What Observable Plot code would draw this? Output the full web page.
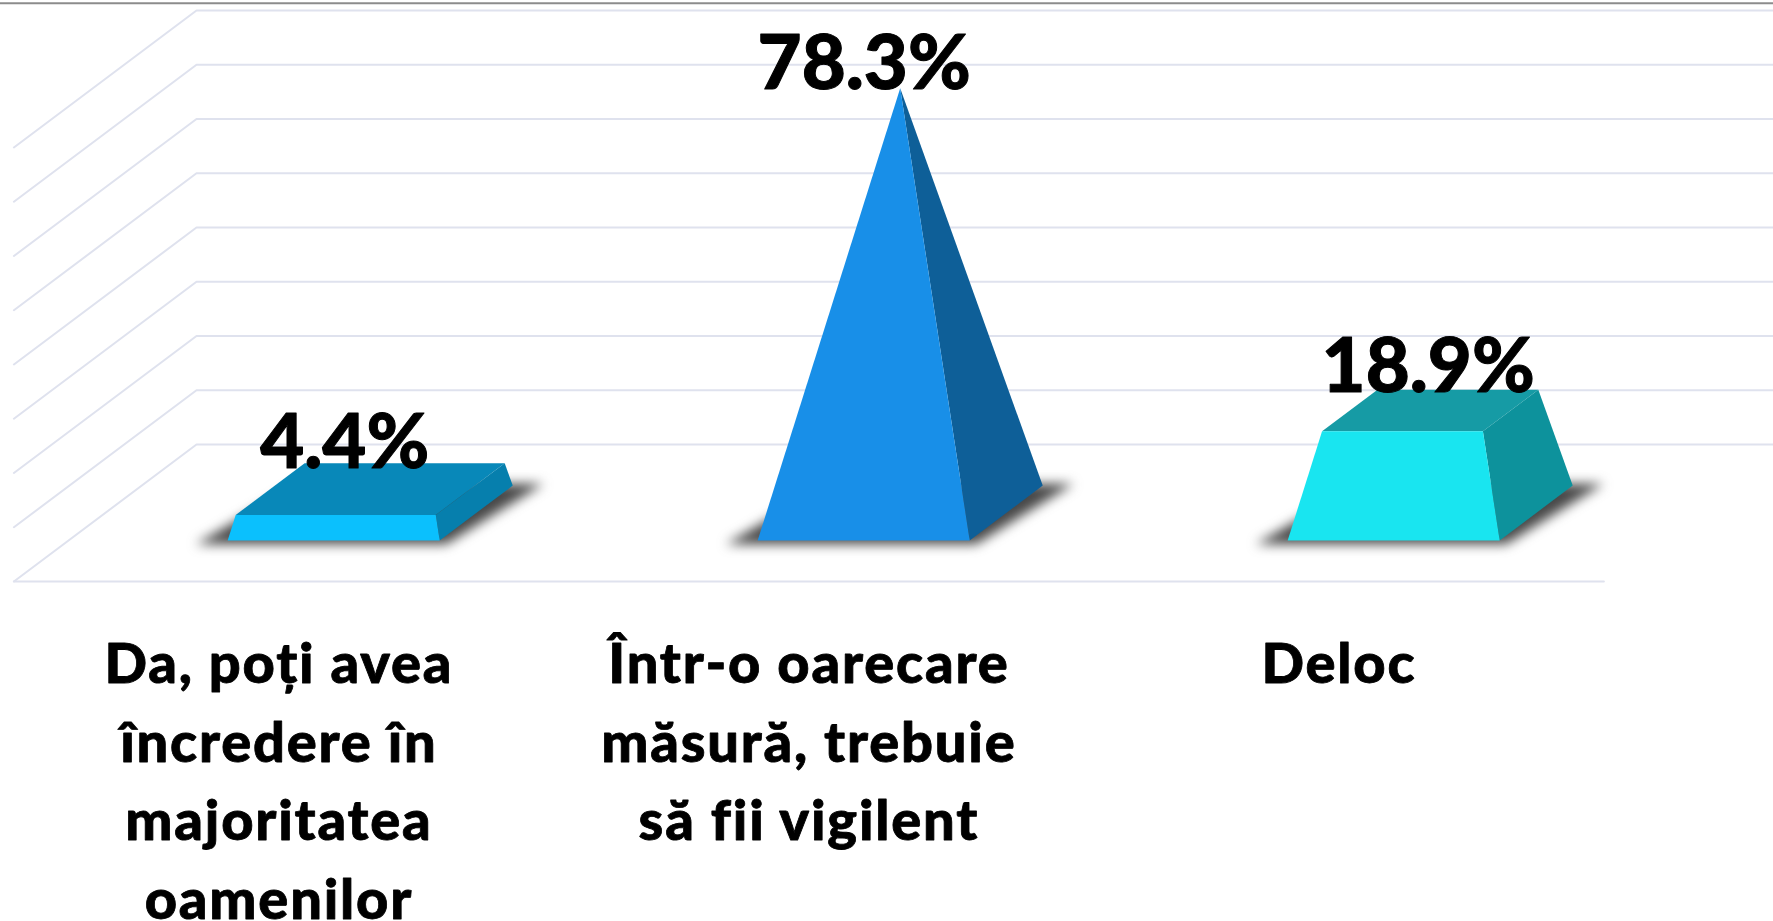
<!DOCTYPE html>
<html>
<head>
<meta charset="utf-8">
<script src="https://cdn.jsdelivr.net/npm/d3@7"></script>
<script src="https://cdn.jsdelivr.net/npm/@observablehq/plot@0.6"></script>
<style>
html,body{margin:0;padding:0;background:#fff;overflow:hidden}
svg{display:block;font-variant-ligatures:none}
svg g[font-size="56"]{letter-spacing:1.8px}
</style>
</head>
<body>
<div id="chart"></div>
<script>
// Data
const categories = ["Da, poți avea\nîncredere în\nmajoritatea\noamenilor", "Într-o oarecare\nmăsură, trebuie\nsă fii vigilent", "Deloc"];
const values = [4.4, 78.3, 18.9];
const valueLabels = ["4.4%", "78.3%", "18.9%"];
const gridTicks = [0, 10, 20, 30, 40, 50, 60, 70, 80];

// Styles
const frontColors = ["#0bc0fd", "#188fe8", "#19e5f0"];
const topColors = ["#0888b9", "#188fe8", "#169ba5"];
const sideColors = ["#067fad", "#0e5f98", "#0d929c"];
const gridColor = "#dfe2ee";

// Layout
const W = 1773, H = 921;
const pxPerCat = 530, pxPerPct = 5.425, x0 = 13.4, y0 = 581;
const depthX = 182.6 / pxPerCat, depthY = 137 / pxPerPct; // oblique projection of the depth axis
const halfBase = 0.2;
const peak = d3.max(values);
const px = (u, d) => u + depthX * d;
const py = (v, d) => v + depthY * d;

// Pyramid corner at a given height
function corner(i, su, sd, v) {
  const k = 1 - v / peak;
  const u = i + 0.5 + su * halfBase * k, d = 0.5 + sd * halfBase * k;
  return {x: px(u, d), y: py(v, d)};
}
const faces = [];
const addFace = (id, fill, pts) => pts.forEach(p => faces.push({...p, id, fill}));
values.forEach((v, i) => {
  addFace(`top${i}`, topColors[i], [corner(i,-1,-1,v), corner(i,1,-1,v), corner(i,1,1,v), corner(i,-1,1,v)]);
  addFace(`side${i}`, sideColors[i], [corner(i,1,-1,0), corner(i,1,1,0), corner(i,1,1,v), corner(i,1,-1,v)]);
  addFace(`front${i}`, frontColors[i], [corner(i,-1,-1,0), corner(i,1,-1,0), corner(i,1,-1,v), corner(i,-1,-1,v)]);
});

// Soft contact shadow on the floor
const shadow = values.flatMap((v, i) => {
  const a = corner(i,-1,-1,0), b = corner(i,1,-1,0), c = corner(i,1,1,0), e = corner(i,-1,1,0);
  return [
    {id:i, x:a.x-0.06, y:a.y-0.7},
    {id:i, x:b.x+0.012, y:b.y-0.7},
    {id:i, x:c.x+0.058, y:c.y+0.35},
    {id:i, x:e.x, y:e.y+0.35}
  ];
});

// Grid: side wall + back wall per tick, plus floor front edge
const grid = gridTicks.flatMap(t => [
  {t, x:px(0,0), y:py(t,0)},
  {t, x:px(0,1), y:py(t,1)},
  {t, x:px(3,1), y:py(t,1)}
]);
const floorFront = [{x:px(0,0), y:0}, {x:px(3,0), y:0}];

const labels = categories.map((c, i) => ({c, x:i+0.5, y:0}));
const vals = valueLabels.map((t, i) => ({t, x:px(i+0.5,0.5), y:py(values[i],0.5)}));
const nudges = [{dx:-25.5, dy:-21}, {dx:-36, dy:1}, {dx:-2, dy:-18}];
const valueFont = {fontFamily:"Lato", fontWeight:900, fontSize:76, fill:"#000", stroke:"#000", strokeWidth:1, lineAnchor:"bottom"};

const plot = Plot.plot({
  width: W, height: H,
  margin: 0,
  style: {background:"#fff"},
  x: {domain:[-x0/pxPerCat, (W-x0)/pxPerCat], range:[0,W], axis:null},
  y: {domain:[(y0-H)/pxPerPct, y0/pxPerPct], range:[H,0], axis:null},
  color: {type:"identity"},
  marks: [
    Plot.ruleY([y0/pxPerPct - 2.7/pxPerPct], {stroke:"#8c8c8c", strokeWidth:2}),
    Plot.line(grid, {x:"x", y:"y", z:"t", stroke:gridColor, strokeWidth:2}),
    Plot.line(floorFront, {x:"x", y:"y", stroke:gridColor, strokeWidth:2}),
    Plot.line(shadow, {x:"x", y:"y", z:"id", curve:"linear-closed", fill:"#484848", stroke:"none", imageFilter:"blur(6px)"}),
    Plot.line(faces, {x:"x", y:"y", z:"id", curve:"linear-closed", fill:"fill", stroke:"none"}),
    ...vals.map((d, i) => Plot.text([d], {x:"x", y:"y", text:"t", ...valueFont, ...nudges[i]})),
    Plot.text(labels, {x:"x", y:"y", text:"c", dy:46.3, lineAnchor:"top", lineHeight:1.4, fontFamily:"Lato", fontWeight:900, fontSize:56, fill:"#000", stroke:"#000", strokeWidth:0.8})
  ]
});
document.getElementById("chart").appendChild(plot);
</script>
</body>
</html>
